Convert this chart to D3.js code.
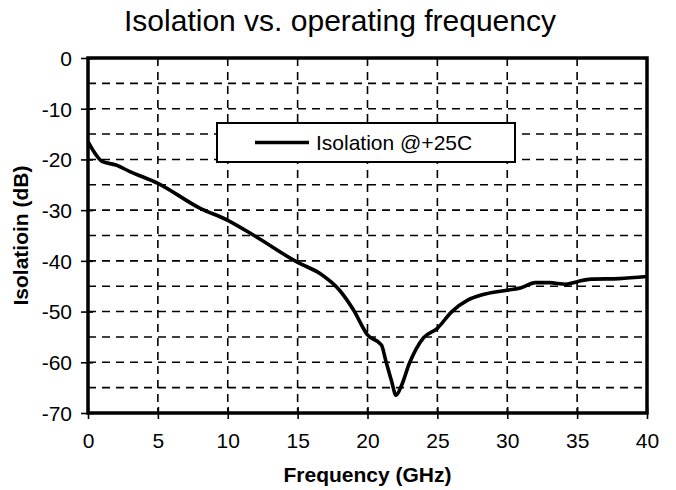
<!DOCTYPE html>
<html>
<head>
<meta charset="utf-8">
<script src="https://cdn.jsdelivr.net/npm/d3@7"></script>
<style>
  body { margin: 0; background: #fff; }
  svg { display: block; font-family: "Liberation Sans", Arial, sans-serif; }
</style>
</head>
<body>
<div id="chart"></div>
<script>
// values
const freqGHz = [0, 0.5, 1, 2, 3, 5, 8, 10, 12, 15, 16.6, 18, 19, 20, 21, 21.3, 21.7, 22.05, 22.4, 23, 24, 25, 26, 27.2, 28.2, 30, 31, 32, 33, 34.2, 35, 36, 38, 40];
const isolationDb = [-16.5, -18.8, -20.4, -21.1, -22.4, -24.7, -29.6, -32, -35.2, -40.3, -42.5, -45.8, -49.7, -54.6, -56.6, -59.6, -63.5, -66.5, -64.8, -60.2, -55.2, -53.3, -50.1, -47.7, -46.7, -45.8, -45.3, -44.3, -44.3, -44.6, -44.1, -43.6, -43.5, -43.1];
const xTicks = [0, 5, 10, 15, 20, 25, 30, 35, 40];
const yTicks = [0, -10, -20, -30, -40, -50, -60, -70];
const yGrid = [-5, -10, -15, -20, -25, -30, -35, -40, -45, -50, -55, -60, -65];
const xGrid = [5, 10, 15, 20, 25, 30, 35];

const width = 676, height = 490;
const margin = {top: 58, right: 29, bottom: 77, left: 88};

const svg = d3.select('#chart').append('svg')
    .attr('width', width)
    .attr('height', height);

const x = d3.scaleLinear().domain([0, 40]).range([margin.left, width - margin.right]);
const y = d3.scaleLinear().domain([-70, 0]).range([height - margin.bottom, margin.top]);

// dashed grid
const grid = svg.append('g')
    .attr('stroke', '#000')
    .attr('stroke-width', 1.6)
    .attr('stroke-dasharray', '8,6');

grid.selectAll('line.h')
    .data(yGrid)
  .enter().append('line')
    .attr('class', 'h')
    .attr('x1', x(0)).attr('x2', x(40))
    .attr('y1', d => y(d)).attr('y2', d => y(d));

grid.selectAll('line.v')
    .data(xGrid)
  .enter().append('line')
    .attr('class', 'v')
    .attr('x1', d => x(d)).attr('x2', d => x(d))
    .attr('y1', y(0)).attr('y2', y(-70));

// axes, ticks cross the frame; plain hyphen for negatives
const fmt = d => String(d);
const yAxis = d3.axisLeft(y).tickValues(yTicks).tickFormat(fmt).tickSizeInner(7).tickSizeOuter(0).tickPadding(9);
const xAxis = d3.axisBottom(x).tickValues(xTicks).tickFormat(fmt).tickSizeInner(6).tickSizeOuter(0).tickPadding(14);

const gy = svg.append('g')
    .attr('transform', 'translate(' + x(0) + ',0)')
    .call(yAxis);
const gx = svg.append('g')
    .attr('transform', 'translate(0,' + y(-70) + ')')
    .call(xAxis);

[gx, gy].forEach(g => {
    g.select('.domain').remove();
    g.selectAll('.tick line').attr('stroke', '#000').attr('stroke-width', 1.6);
    g.selectAll('.tick text')
        .attr('fill', '#000')
        .style('font-size', '21px')
        .style('font-family', '"Liberation Sans", Arial, sans-serif');
});
gy.selectAll('.tick text').attr('dy', '0.35em');
gy.selectAll('.tick line').attr('x2', 5).attr('x1', -7);
gx.selectAll('.tick line').attr('y1', -6).attr('y2', 6);

// frame
svg.append('rect')
    .attr('x', x(0)).attr('y', y(0))
    .attr('width', x(40) - x(0))
    .attr('height', y(-70) - y(0))
    .attr('fill', 'none')
    .attr('stroke', '#000')
    .attr('stroke-width', 3.5);

// curve
const line = d3.line()
    .x((d, i) => x(freqGHz[i]))
    .y(d => y(d))
    .curve(d3.curveMonotoneX);

svg.append('path')
    .datum(isolationDb)
    .attr('d', line)
    .attr('fill', 'none')
    .attr('stroke', '#000')
    .attr('stroke-width', 3.6)
    .attr('stroke-linejoin', 'round');

// legend
const legend = svg.append('g').attr('transform', 'translate(217,123)');
legend.append('rect')
    .attr('width', 298).attr('height', 39)
    .attr('fill', '#fff')
    .attr('stroke', '#000')
    .attr('stroke-width', 2);
legend.append('line')
    .attr('x1', 38).attr('x2', 92)
    .attr('y1', 19.5).attr('y2', 19.5)
    .attr('stroke', '#000')
    .attr('stroke-width', 3.6);
legend.append('text')
    .attr('x', 99).attr('y', 27)
    .style('font-size', '21px')
    .text('Isolation @+25C');

// titles
svg.append('text')
    .attr('x', 340).attr('y', 31)
    .attr('text-anchor', 'middle')
    .style('font-size', '30px')
    .text('Isolation vs. operating frequency');

svg.append('text')
    .attr('x', (x(0) + x(40)) / 2).attr('y', 482)
    .attr('text-anchor', 'middle')
    .style('font-size', '21px')
    .style('font-weight', 'bold')
    .text('Frequency (GHz)');

svg.append('text')
    .attr('transform', 'translate(28,' + (y(-35)) + ')rotate(-90)')
    .attr('text-anchor', 'middle')
    .style('font-size', '21px')
    .style('font-weight', 'bold')
    .text('Isolatioin (dB)');
</script>
</body>
</html>
